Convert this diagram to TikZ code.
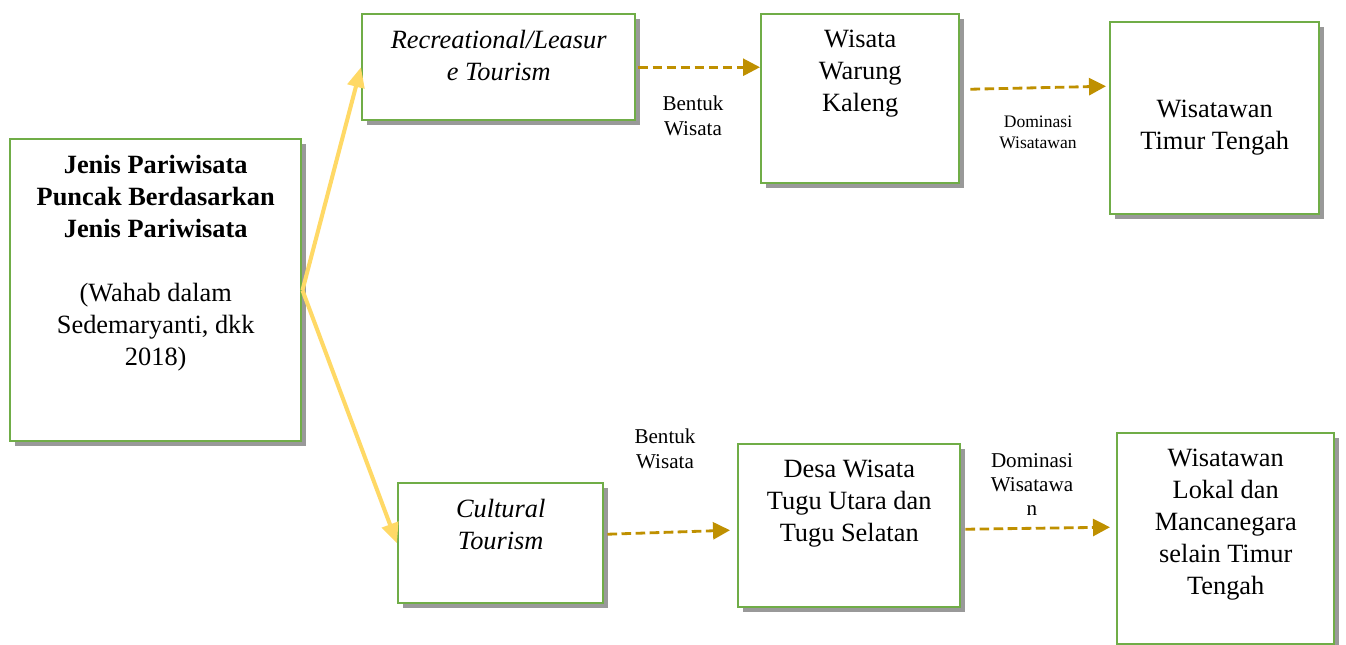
\documentclass[tikz,border=0pt]{standalone}
\usepackage{fontspec}
\setmainfont{Liberation Serif}
\usepackage{xcolor}
\definecolor{BoxGreen}{RGB}{112,173,71}
\definecolor{ShadowGray}{RGB}{153,153,153}
\definecolor{LinkYellow}{RGB}{255,217,102}
\definecolor{DashGold}{RGB}{191,144,0}
\usetikzlibrary{positioning,arrows.meta,shadows}
\tikzset{
  box/.style={draw=BoxGreen,fill=white,line width=1.4pt,inner sep=0pt,anchor=north west,
    drop shadow={shadow xshift=0.1cm,shadow yshift=-0.1cm,fill=ShadowGray,opacity=1}},
  txt/.style={anchor=north,inner sep=0pt,align=center,font=\fontsize{15}{18.2}\selectfont},
  lbl/.style={anchor=north,inner sep=0pt,align=center,font=\fontsize{12}{14.2}\selectfont},
  link/.style={-{Triangle[length=4mm,width=3.4mm]},line width=2.3pt,draw=LinkYellow},
  dasharrow/.style={-{Triangle[length=3.4mm,width=3.4mm]},line width=1.6pt,draw=DashGold,dash pattern=on 5.5pt off 2.5pt},
}
\begin{document}
\begin{tikzpicture}
  \useasboundingbox (0,0) rectangle (26.92,-12.9);
  % boxes
  \node[box,minimum width=5.82cm,minimum height=6.04cm] (jenis) at (0.18,-2.76) {};
  \node[box,minimum width=5.46cm,minimum height=2.12cm] (rec) at (7.22,-0.26) {};
  \node[box,minimum width=3.96cm,minimum height=3.38cm] (warung) at (15.2,-0.26) {};
  \node[box,minimum width=4.18cm,minimum height=3.84cm] (timur) at (22.18,-0.42) {};
  \node[box,minimum width=4.10cm,minimum height=2.40cm] (cultural) at (7.94,-9.64) {};
  \node[box,minimum width=4.44cm,minimum height=3.26cm] (desa) at (14.74,-8.86) {};
  \node[box,minimum width=4.34cm,minimum height=4.22cm] (lokal) at (22.32,-8.64) {};
  % box texts
  \node[txt] (jenistxt) at ([yshift=-0.34cm]jenis.north)
    {\textbf{Jenis Pariwisata}\\\textbf{Puncak Berdasarkan}\\\textbf{Jenis Pariwisata}\\[18.2pt]
     (Wahab dalam\\Sedemaryanti, dkk\\2018)};
  \node[txt] (rectxt) at ([yshift=-0.34cm]rec.north) {\textit{Recreational/Leasur}\\\textit{e Tourism}};
  \node[txt] (warungtxt) at ([yshift=-0.34cm]warung.north) {Wisata\\Warung\\Kaleng};
  \node[txt] (timurtxt) at ([yshift=-1.58cm]timur.north) {Wisatawan\\Timur Tengah};
  \node[txt] (culturaltxt) at ([yshift=-0.34cm]cultural.north) {\textit{Cultural}\\\textit{Tourism}};
  \node[txt] (desatxt) at ([yshift=-0.34cm]desa.north) {Desa Wisata\\Tugu Utara dan\\Tugu Selatan};
  \node[txt] (lokaltxt) at ([yshift=-0.34cm]lokal.north) {Wisatawan\\Lokal dan\\Mancanegara\\selain Timur\\Tengah};
  % small labels
  \node[lbl] (bentuk1) at (13.86,-1.92) {Bentuk\\Wisata};
  \node[lbl] (bentuk2) at (13.3,-8.58) {Bentuk\\Wisata};
  \node[lbl,font=\fontsize{10}{11.5}\selectfont] (dominasi1) at (20.76,-2.32) {Dominasi\\Wisatawan};
  \node[lbl,font=\fontsize{12}{13.8}\selectfont] (dominasi2) at (20.64,-9.06) {Dominasi\\Wisatawa\\n};
  % connectors
  \draw[link] (jenis.east) -- (rec.west);
  \draw[link] (jenis.east) -- (cultural.west);
  \draw[dasharrow] ([xshift=0.04cm]rec.east) -- (rec.east -| warung.west);
  \draw[dasharrow] ([shift={(0.2,0.19)}]warung.east) -- ([shift={(-0.06,0.64)}]timur.west);
  \draw[dasharrow] ([shift={(0.06,0.18)}]cultural.east) -- ([shift={(-0.14,-0.09)}]desa.west);
  \draw[dasharrow] ([shift={(0.08,-0.07)}]desa.east) -- ([shift={(-0.12,0.23)}]lokal.west);
\end{tikzpicture}
\end{document}
